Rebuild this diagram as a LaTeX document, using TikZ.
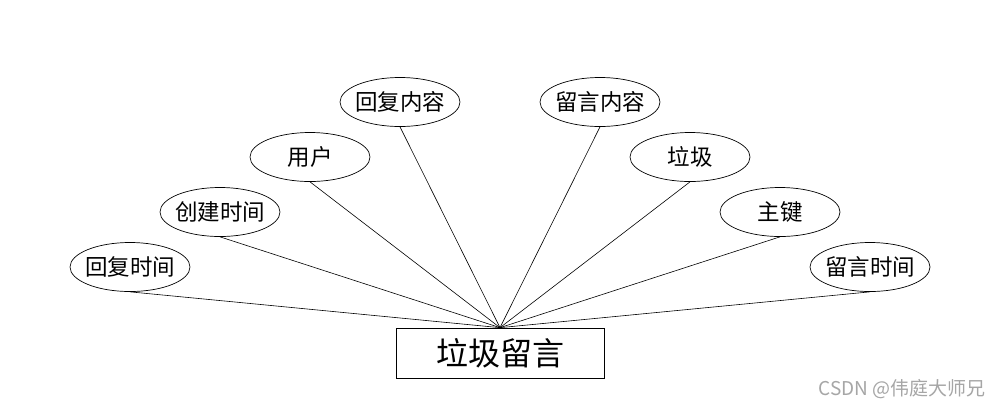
\documentclass[tikz,border=0pt]{standalone}
\usepackage{fontspec}
\setmainfont{Noto Sans CJK SC}
\usetikzlibrary{shapes.geometric}
\newcommand{\zw}[1]{\makebox[0pt]{#1}}
\tikzset{
  attr/.style={draw, ellipse, minimum width=120pt, minimum height=49pt, inner sep=0pt, line width=0.7pt, font=\fontsize{22.5}{24}\selectfont},
  entity/.style={draw, rectangle, minimum width=208pt, minimum height=50pt, inner sep=0pt, line width=0.7pt, font=\fontsize{32}{34}\selectfont},
  link/.style={line width=0.6pt}
}
\begin{document}
\begin{tikzpicture}[x=1pt,y=-1pt]
\useasboundingbox[fill=white] (0,0) rectangle (1000,408);
\node[entity] (e) at (500,353) {垃圾留言};
\node[attr] (a1) at (130,267) {\zw{回复时间}};
\node[attr] (a2) at (220,212) {\zw{创建时间}};
\node[attr] (a3) at (310,157) {\zw{用户}};
\node[attr] (a4) at (400,102) {\zw{回复内容}};
\node[attr] (a5) at (600,102) {\zw{留言内容}};
\node[attr] (a6) at (690,157) {\zw{垃圾}};
\node[attr] (a7) at (780,212) {\zw{主键}};
\node[attr] (a8) at (870,267) {\zw{留言时间}};
\foreach \n in {a1,a2,a3,a4,a5,a6,a7,a8}
  \draw[link] (\n.south) -- (e.north);
\node[text=gray!70, font=\fontsize{19}{21}\selectfont, anchor=east, inner sep=0pt] (wm) at (986,389) {CSDN @伟庭大师兄};
\end{tikzpicture}
\end{document}
